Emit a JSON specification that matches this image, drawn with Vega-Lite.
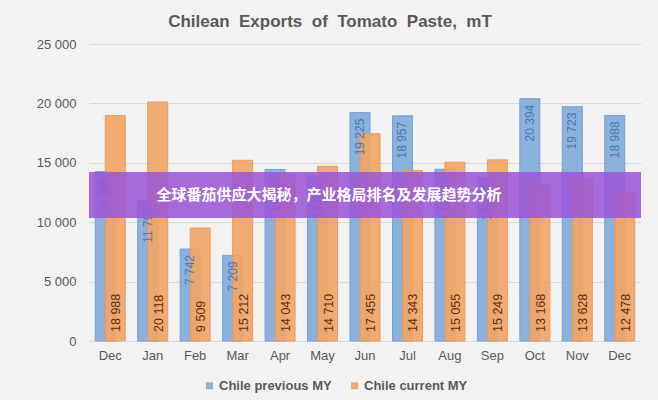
{
  "$schema": "https://vega.github.io/schema/vega-lite/v6.json",
  "width": 552,
  "height": 297,
  "autosize": {"type": "none"},
  "padding": {"left": 89, "top": 44, "right": 17, "bottom": 59},
  "background": "#f2f2f2",
  "title": {"text": "Chilean\u00a0 Exports\u00a0 of\u00a0 Tomato\u00a0 Paste,\u00a0 mT", "font": "Liberation Sans", "fontSize": 17, "fontWeight": "bold", "color": "#595959", "anchor": "middle", "dx": -35, "offset": 7},
  "config": {
    "view": {"stroke": null},
    "font": "Liberation Sans",
    "locale": {"number": {"decimal": ".", "thousands": " ", "grouping": [3], "currency": ["", ""]}}
  },
  "datasets": {
    "exports": [
      {"m": "Dec", "series": "Chile previous MY", "value": 14265},
      {"m": "Jan", "series": "Chile previous MY", "value": 11795},
      {"m": "Feb", "series": "Chile previous MY", "value": 7742},
      {"m": "Mar", "series": "Chile previous MY", "value": 7209},
      {"m": "Apr", "series": "Chile previous MY", "value": 14436},
      {"m": "May", "series": "Chile previous MY", "value": 13885},
      {"m": "Jun", "series": "Chile previous MY", "value": 19225},
      {"m": "Jul", "series": "Chile previous MY", "value": 18957},
      {"m": "Aug", "series": "Chile previous MY", "value": 14454},
      {"m": "Sep", "series": "Chile previous MY", "value": 13730},
      {"m": "Oct", "series": "Chile previous MY", "value": 20394},
      {"m": "Nov", "series": "Chile previous MY", "value": 19723},
      {"m": "Dec*", "series": "Chile previous MY", "value": 18988},
      {"m": "Dec", "series": "Chile current MY", "value": 18988},
      {"m": "Jan", "series": "Chile current MY", "value": 20118},
      {"m": "Feb", "series": "Chile current MY", "value": 9509},
      {"m": "Mar", "series": "Chile current MY", "value": 15212},
      {"m": "Apr", "series": "Chile current MY", "value": 14043},
      {"m": "May", "series": "Chile current MY", "value": 14710},
      {"m": "Jun", "series": "Chile current MY", "value": 17455},
      {"m": "Jul", "series": "Chile current MY", "value": 14343},
      {"m": "Aug", "series": "Chile current MY", "value": 15055},
      {"m": "Sep", "series": "Chile current MY", "value": 15249},
      {"m": "Oct", "series": "Chile current MY", "value": 13168},
      {"m": "Nov", "series": "Chile current MY", "value": 13628},
      {"m": "Dec*", "series": "Chile current MY", "value": 12478}
    ],
    "banner": [
      {"top": 14225, "bottom": 10354, "mid": 12290, "text": "全球番茄供应大揭秘，产业格局排名及发展趋势分析"}
    ]
  },
  "layer": [
    {
      "data": {"name": "exports"},
      "encoding": {
        "x": {
          "field": "m", "type": "nominal", "sort": null,
          "scale": {"paddingInner": 0, "paddingOuter": 0},
          "axis": {"title": null, "labelExpr": "replace(datum.label, '*', '')", "domain": false, "ticks": false, "labelPadding": 8, "labelFontSize": 13, "labelColor": "#595959", "labelAngle": 0, "labelFont": "Liberation Sans"}
        },
        "y": {
          "field": "value", "type": "quantitative", "title": null,
          "scale": {"domain": [0, 25000], "nice": false},
          "axis": {"title": null, "values": [0, 5000, 10000, 15000, 20000, 25000], "format": ",d", "domain": false, "ticks": false, "labelPadding": 13, "labelFontSize": 13, "labelColor": "#595959", "gridColor": "#d9d9d9", "labelFont": "Liberation Sans"}
        }
      },
      "layer": [
        {
          "transform": [{"filter": "datum.series === 'Chile previous MY'"}],
          "mark": {"type": "bar", "width": 20, "xOffset": -5, "stroke": "#6f9dd0", "strokeWidth": 1, "opacity": 0.95},
          "encoding": {
            "color": {
              "field": "series", "type": "nominal",
              "scale": {"domain": ["Chile previous MY", "Chile current MY"], "range": ["#86afdc", "#f3a566"]},
              "legend": {"orient": "none", "legendX": 114, "legendY": 335, "direction": "horizontal", "title": null, "symbolType": "square", "symbolSize": 49, "symbolStrokeWidth": 0, "labelFont": "Liberation Sans", "labelFontSize": 13, "labelFontWeight": "bold", "labelColor": "#595959", "columnPadding": 16, "labelOffset": 3}
            }
          }
        },
        {
          "transform": [{"filter": "datum.series === 'Chile current MY'"}],
          "mark": {"type": "bar", "width": 20, "xOffset": 5, "stroke": "#e8955a", "strokeWidth": 1, "opacity": 0.92},
          "encoding": {
            "color": {"field": "series", "type": "nominal"}
          }
        },
        {
          "transform": [{"filter": "datum.series === 'Chile previous MY'"}],
          "mark": {"type": "text", "angle": 270, "align": "right", "baseline": "middle", "dx": -6, "xOffset": -5, "fontSize": 12, "color": "#3e6db5", "opacity": 0.85, "font": "Liberation Sans"},
          "encoding": {
            "text": {"field": "value", "type": "quantitative", "format": ",d"}
          }
        },
        {
          "transform": [{"filter": "datum.series === 'Chile current MY'"}],
          "mark": {"type": "text", "angle": 270, "align": "left", "baseline": "middle", "dx": 9, "xOffset": 6, "fontSize": 12.5, "color": "#5e2e0e", "font": "Liberation Sans"},
          "encoding": {
            "y": {"datum": 0, "type": "quantitative"},
            "text": {"field": "value", "type": "quantitative", "format": ",d"}
          }
        }
      ]
    },
    {
      "data": {"name": "banner"},
      "layer": [
        {
          "mark": {"type": "rect", "color": "#9b57d6", "opacity": 0.88},
          "encoding": {
            "y": {"field": "top", "type": "quantitative", "title": null},
            "y2": {"field": "bottom"}
          }
        },
        {
          "mark": {"type": "text", "fontSize": 15, "fontWeight": "bold", "color": "#ffffff", "font": "Noto Sans CJK SC", "dx": -36, "baseline": "middle", "align": "center"},
          "encoding": {
            "y": {"field": "mid", "type": "quantitative", "title": null},
            "text": {"field": "text", "type": "nominal"}
          }
        }
      ]
    }
  ]
}
